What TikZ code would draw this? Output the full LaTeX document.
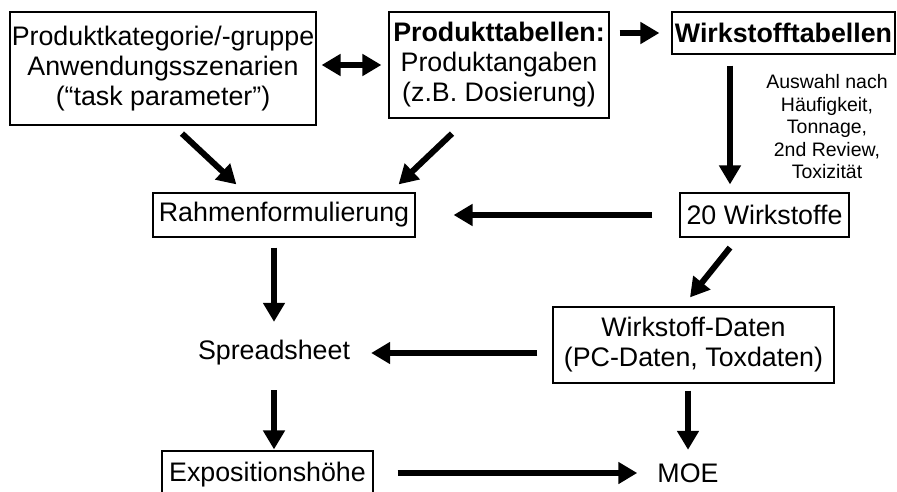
\documentclass[tikz,border=0pt]{standalone}
\usepackage{fontspec}
\setmainfont{Liberation Sans}
\usetikzlibrary{arrows.meta}

\begin{document}
\begin{tikzpicture}[x=1pt,y=-1pt,
		box/.style={draw,line width=1.2pt,align=center,inner sep=0pt},
		txt/.style={inner sep=0pt,minimum height=30pt},
		arr/.style={line width=6pt,-{Triangle[width=21pt,length=19pt]}},
		dblarr/.style={line width=6pt,{Triangle[width=21pt,length=19pt]}-{Triangle[width=21pt,length=19pt]}},
		big/.style={font=\fontsize{26.8}{30}\selectfont}]
			\useasboundingbox (0,0) rectangle (897,492);
			\clip (0,0) rectangle (897,492);
			
			% boxes
			\node[box,big,minimum width=306pt,minimum height=113pt] (kat) at (163,68.5)
				{Produktkategorie/-gruppe\\Anwendungsszenarien\\(“task parameter”)};
			\node[box,big,minimum width=220pt,minimum height=106pt] (prodtab) at (499,65)
				{\textbf{Produkttabellen:}\\Produktangaben\\(z.B. Dosierung)};
			\node[box,big,minimum width=223pt,minimum height=42pt] (wirktab) at (783.5,33)
				{\textbf{Wirkstofftabellen}};
			\node[box,big,minimum width=262pt,minimum height=44pt] (rahmen) at (284,215)
				{Rahmenformulierung};
			\node[box,big,minimum width=169pt,minimum height=44pt] (zwanzig) at (764.5,215)
				{20 Wirkstoffe};
			\node[box,big,minimum width=281pt,minimum height=76pt] (daten) at (693.5,345)
				{Wirkstoff-Daten\\(PC-Daten, Toxdaten)};
			\node[box,big,minimum width=211pt,minimum height=48pt] (expo) at (267.5,475)
				{Expositionsh\"ohe};
			\node[txt,big] (spread) at (274,353) {Spreadsheet};
			\node[txt,big] (moe) at (688,473) {MOE};
			
			% Auswahlkriterien
			\node[align=center,inner sep=0pt,font=\fontsize{19.5}{22.5}\selectfont] (auswahl) at (827,127)
				{Auswahl nach\\H\"aufigkeit,\\Tonnage,\\2nd Review,\\Toxizit\"at};
			
			% arrows
			\draw[dblarr,shorten <=5pt,shorten >=7pt] (kat.east |- prodtab.west) -- (prodtab.west);
			\draw[arr,shorten <=10pt,shorten >=12pt] (prodtab.east |- wirktab.west) -- (wirktab.west);
			\draw[arr] ([shift={(-53.5,11)}]wirktab.south) -- ([shift={(-34.5,-8)}]zwanzig.north);
			\draw[arr] ([shift={(19,8)}]kat.south) -- ([shift={(84,-8)}]rahmen.north west);
			\draw[arr] ([shift={(-47,15)}]prodtab.south) -- ([shift={(-17,-8)}]rahmen.north east);
			\draw[arr,shorten <=27pt,shorten >=38pt] (zwanzig.west) -- (rahmen.east);
			\draw[arr] ([shift={(-34.5,10)}]zwanzig.south) -- ([shift={(-3.5,-9)}]daten.north);
			\draw[arr,shorten <=10pt,shorten >=16pt] (spread.north |- rahmen.south) -- (spread.north);
			\draw[arr,shorten <=15pt,shorten >=21pt] (daten.west |- spread.east) -- (spread.east);
			\draw[arr,shorten <=22pt,shorten >=1pt] (spread.south) -- (spread.south |- expo.north);
			\draw[arr,shorten <=7pt,shorten >=8pt] (daten.south -| moe.north) -- (moe.north);
			\draw[arr,shorten <=24pt,shorten >=20pt] (expo.east |- moe.west) -- (moe.west);
		\end{tikzpicture}
\end{document}
